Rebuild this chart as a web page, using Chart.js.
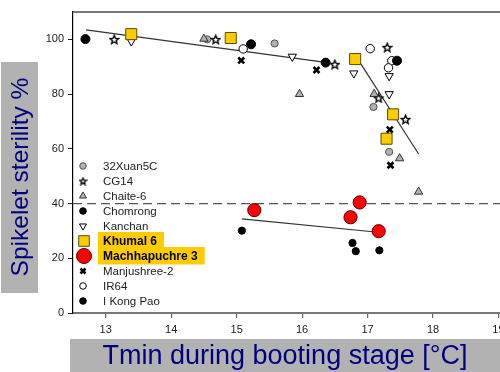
<!DOCTYPE html>
<html>
<head>
<meta charset="utf-8">
<script src="https://cdn.jsdelivr.net/npm/chart.js@4.4.1/dist/chart.umd.min.js"></script>
<style>
  html, body { margin: 0; padding: 0; background: #fff; overflow: hidden; }
  #wrap { position: relative; width: 540px; height: 372px; }
</style>
</head>
<body>
<div id="wrap"><canvas id="c" width="540" height="372"></canvas></div>
<script>
// Tmin during booting (°C) vs spikelet sterility (%) per variety
var xuanX = [14.55, 15.58, 17.09, 17.33];
var xuanY = [100.0, 98.5, 75.3, 58.9];
var cg14X = [13.13, 14.68, 16.50, 17.30, 17.17, 17.58];
var cg14Y = [100.0, 100.0, 90.9, 97.1, 78.6, 70.8];
var chaiteX = [14.50, 15.96, 17.10, 17.49, 17.78];
var chaiteY = [100.2, 80.0, 80.0, 56.5, 44.3];
var chomrongX = [15.08, 16.77, 16.82, 17.18];
var chomrongY = [30.1, 25.6, 22.6, 22.9];
var kanchanX = [13.39, 15.85, 16.79, 17.33, 17.33];
var kanchanY = [99.3, 93.7, 87.6, 86.6, 80.0];
var khumalX = [13.39, 14.91, 16.81, 17.39, 17.29];
var khumalY = [101.9, 100.5, 92.8, 72.6, 63.7];
var machX = [15.27, 16.74, 16.88, 17.17];
var machY = [37.6, 35.0, 40.4, 29.9];
var manjuX = [15.07, 16.22, 17.34, 17.35];
var manjuY = [92.3, 88.8, 67.0, 54.0];
var ir64X = [15.10, 17.04, 17.37, 17.32];
var ir64Y = [96.5, 96.6, 92.2, 89.6];
var kongX = [12.69, 15.22, 16.36, 17.45];
var kongY = [100.1, 98.2, 91.5, 92.2];

// fitted lines (end points)
var fit1X = [12.70, 16.33], fit1Y = [103.5, 91.7];
var fit2X = [16.89, 17.78], fit2Y = [91.3, 58.1];
var fit3X = [15.08, 17.12], fit3Y = [34.4, 29.6];

var threshold = 40;
var xTicks = [13, 14, 15, 16, 17, 18, 19];
var yTicks = [0, 20, 40, 60, 80, 100];

function pts(xs, ys) {
  return xs.map(function (x, i) { return { x: x, y: ys[i] }; });
}

function starImg(size, lw) {
  var c = document.createElement('canvas');
  c.width = c.height = size;
  var g = c.getContext('2d');
  var cx = size / 2, cy = size / 2 + 0.5, R = size / 2 - 1, r = R * 0.45;
  g.beginPath();
  for (var i = 0; i < 10; i++) {
    var a = -Math.PI / 2 + i * Math.PI / 5;
    var rad = i % 2 ? r : R;
    g.lineTo(cx + rad * Math.cos(a), cy + rad * Math.sin(a));
  }
  g.closePath();
  g.fillStyle = '#fff';
  g.fill();
  g.lineWidth = lw;
  g.strokeStyle = '#000';
  g.stroke();
  return c;
}
var star = starImg(11, 1.4);
var smallStar = starImg(9, 1.3);

var FONT = "'Liberation Sans', Arial, sans-serif";

var series = [
  { label: '32Xuan5C', x: xuanX, y: xuanY, style: 'circle', r: 3.6, bg: '#b0b0b0', bc: '#555', bw: 1 },
  { label: 'CG14', x: cg14X, y: cg14Y, style: star, ls: smallStar, r: 4, bg: '#fff', bc: '#000', bw: 1 },
  { label: 'Chaite-6', x: chaiteX, y: chaiteY, style: 'triangle', r: 4.8, bg: '#b0b0b0', bc: '#333', bw: 1 },
  { label: 'Chomrong', x: chomrongX, y: chomrongY, style: 'circle', r: 3.6, bg: '#000', bc: '#000', bw: 1 },
  { label: 'Kanchan', x: kanchanX, y: kanchanY, style: 'triangle', rot: 180, r: 4.8, bg: '#fff', bc: '#000', bw: 1 },
  { label: 'Khumal 6', x: khumalX, y: khumalY, style: 'rect', r: 7.8, bg: '#ffcc00', bc: '#5a4a00', bw: 1, lr: 7.5, hl: true },
  { label: 'Machhapuchre 3', x: machX, y: machY, style: 'circle', r: 6.6, bg: '#ff0000', bc: '#5a0000', bw: 1, lr: 7.5, hl: true },
  { label: 'Manjushree-2', x: manjuX, y: manjuY, style: 'crossRot', r: 4.2, bg: '#000', bc: '#000', bw: 2.6 },
  { label: 'IR64', x: ir64X, y: ir64Y, style: 'circle', r: 4.2, bg: '#fff', bc: '#000', bw: 1 },
  { label: 'I Kong Pao', x: kongX, y: kongY, style: 'circle', r: 4.5, bg: '#000', bc: '#000', bw: 1 }
];

var datasets = series.map(function (s, i) {
  return {
    type: 'scatter',
    label: s.label,
    data: pts(s.x, s.y),
    pointStyle: s.style,
    pointRadius: s.r,
    pointRotation: s.rot || 0,
    backgroundColor: s.bg,
    borderColor: s.bc,
    borderWidth: s.bw,
    order: 10 - i
  };
});

[[fit1X, fit1Y], [fit2X, fit2Y], [fit3X, fit3Y]].forEach(function (f) {
  datasets.push({
    type: 'line',
    data: pts(f[0], f[1]),
    borderColor: '#333',
    borderWidth: 1.2,
    pointRadius: 0,
    fill: false,
    order: 20
  });
});

var decor = {
  id: 'decor',
  beforeDatasetsDraw: function (chart) {
    var ctx = chart.ctx, a = chart.chartArea, yS = chart.scales.y;
    ctx.save();
    // dashed threshold line
    var yy = yS.getPixelForValue(threshold);
    ctx.strokeStyle = '#555';
    ctx.lineWidth = 1.3;
    ctx.setLineDash([9, 5]);
    ctx.beginPath();
    ctx.moveTo(a.left, yy);
    ctx.lineTo(a.right, yy);
    ctx.stroke();
    ctx.setLineDash([]);
    // top frame
    ctx.strokeStyle = '#777';
    ctx.lineWidth = 2;
    ctx.beginPath();
    ctx.moveTo(a.left, a.top);
    ctx.lineTo(chart.width, a.top);
    ctx.stroke();
    ctx.restore();
  },
  afterDraw: function (chart) {
    var ctx = chart.ctx;
    ctx.save();
    // axis title boxes
    ctx.fillStyle = '#b2b2b2';
    ctx.fillRect(1, 62, 37, 231);
    ctx.fillRect(70, 339, 470, 33);
    ctx.fillStyle = '#000080';
    ctx.textAlign = 'center';
    ctx.textBaseline = 'middle';
    ctx.font = '27px ' + FONT;
    ctx.fillText('Tmin during booting stage [°C]', 285, 357);
    ctx.font = '24.5px ' + FONT;
    ctx.translate(20, 177);
    ctx.rotate(-Math.PI / 2);
    ctx.fillText('Spikelet sterility %', 0, 1);
    ctx.restore();

    // legend
    ctx.save();
    var y0 = 166, dy = 15;
    series.forEach(function (s, i) {
      var y = y0 + i * dy;
      ctx.font = (s.hl ? 'bold 12px ' : '11.5px ') + FONT;
      ctx.textAlign = 'left';
      ctx.textBaseline = 'middle';
      if (s.hl) {
        var w = ctx.measureText(s.label).width;
        ctx.fillStyle = '#ffcc00';
        ctx.fillRect(98, y - 9, w + 12, 17.5);
      }
      ctx.fillStyle = s.hl ? '#000' : '#222';
      ctx.fillText(s.label, 103, y + 0.5);
      ctx.fillStyle = s.bg;
      ctx.strokeStyle = s.bc;
      ctx.lineWidth = s.bw;
      var lr = s.lr || (s.style === 'circle' ? 3.3 : s.r * 0.85);
      Chart.helpers.drawPoint(ctx, {
        pointStyle: s.ls || s.style,
        radius: lr,
        rotation: s.rot || 0,
        borderWidth: s.bw
      }, s.hl ? 84 : 83, y);
    });
    ctx.restore();
  }
};

function keepTicks(list) {
  return function (scale) {
    scale.ticks = list.map(function (v) { return { value: v }; });
  };
}

new Chart(document.getElementById('c').getContext('2d'), {
  data: { datasets: datasets },
  options: {
    responsive: false,
    animation: false,
    layout: { padding: { top: 12, right: 5, left: 0, bottom: 0 } },
    plugins: { legend: { display: false }, tooltip: { enabled: false } },
    scales: {
      x: {
        type: 'linear',
        min: 12.5,
        max: 19.5,
        afterBuildTicks: keepTicks(xTicks),
        afterFit: function (s) { s.height = 59; },
        grid: { drawOnChartArea: false, drawTicks: true, tickLength: 5, color: '#666', lineWidth: 1.2 },
        border: { color: '#777', width: 2 },
        ticks: { font: { family: FONT, size: 11 }, color: '#222', padding: 5, maxRotation: 0, autoSkip: false }
      },
      y: {
        type: 'linear',
        min: 0,
        max: 110,
        afterBuildTicks: keepTicks(yTicks),
        afterFit: function (s) { s.width = 73; },
        grid: { drawOnChartArea: false, drawTicks: true, tickLength: 5, color: '#222', lineWidth: 1 },
        border: { color: '#000', width: 1.2 },
        ticks: { font: { family: FONT, size: 11 }, color: '#222', padding: 4 }
      }
    }
  },
  plugins: [decor]
});
</script>
</body>
</html>
